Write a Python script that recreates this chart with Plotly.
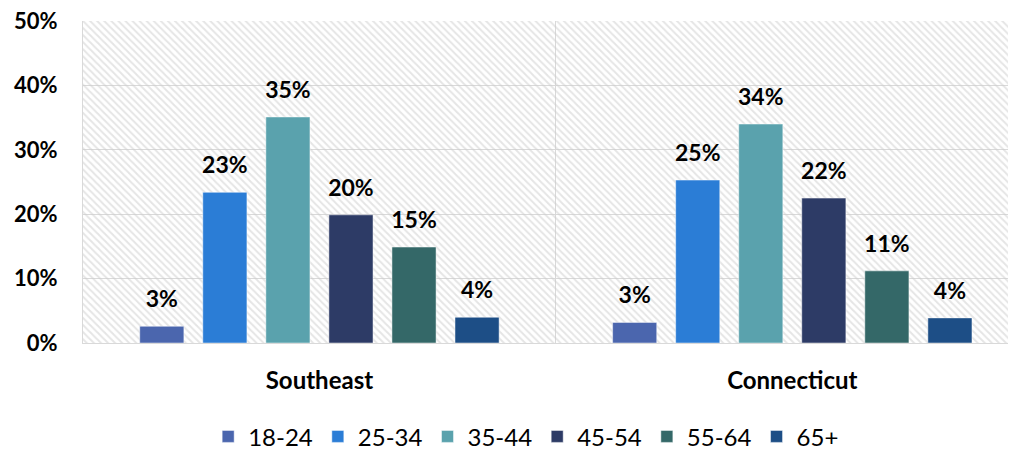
import plotly.graph_objects as go

# Répartition par tranche d'âge (part des répondants)
regions = ["Southeast", "Connecticut"]
age_groups = ["18-24", "25-34", "35-44", "45-54", "55-64", "65+"]
shares = {
    "18-24": [0.026, 0.032],
    "25-34": [0.234, 0.253],
    "35-44": [0.351, 0.340],
    "45-54": [0.199, 0.225],
    "55-64": [0.149, 0.112],
    "65+":   [0.040, 0.039],
}
colors = ["#4B66AE", "#2B7DD6", "#5AA2AD", "#2D3B66", "#346868", "#1D4E86"]
y_ticks = [0, 0.1, 0.2, 0.3, 0.4, 0.5]

FONT = "Lato"
fig = go.Figure()

# fond hachuré (sur les axes principaux, donc sous les barres)
fig.add_trace(go.Bar(
    x=[0.5], y=[1], width=[1], xaxis="x", yaxis="y",
    marker=dict(color="rgba(0,0,0,0)", line=dict(width=0),
                pattern=dict(shape="\\", fgcolor="#cccccc", bgcolor="rgba(0,0,0,0)",
                             size=5, solidity=0.4)),
    hoverinfo="skip", showlegend=False,
))

for age, col in zip(age_groups, colors):
    fig.add_trace(go.Bar(
        x=regions, y=shares[age], name=age, xaxis="x2", yaxis="y2",
        offsetgroup=age, alignmentgroup="b",
        marker=dict(color=col, line=dict(color="rgba(255,255,255,0.6)", width=0.8)),
    ))

# étiquettes de valeurs (points invisibles groupés comme les barres)
for age in age_groups:
    fig.add_trace(go.Scatter(
        x=regions, y=shares[age], xaxis="x2", yaxis="y2",
        offsetgroup=age, alignmentgroup="s",
        mode="markers+text", marker=dict(size=20, opacity=0),
        text=[f"{v:.0%}" for v in shares[age]], textposition="top center",
        textfont=dict(family=FONT, size=23, color="black", weight="bold"),
        cliponaxis=False, showlegend=False, hoverinfo="skip",
    ))

fig.update_layout(
    width=1016, height=449,
    margin=dict(l=75, r=0, t=13, b=114),
    paper_bgcolor="white", plot_bgcolor="white",
    barmode="group", bargap=0.2, bargroupgap=0.3,
    scattermode="group", scattergap=0.2,
    font=dict(family=FONT, color="black"),
    xaxis=dict(range=[0, 1], visible=False, fixedrange=True),
    yaxis=dict(range=[0, 1], visible=False, fixedrange=True),
    xaxis2=dict(overlaying="x", type="category", range=[-0.5, 1.49], automargin=False,
                tickson="boundaries", showgrid=True, gridcolor="#d9d9d9", gridwidth=1.3,
                showline=True, linecolor="#d9d9d9", linewidth=1.3,
                ticks="", ticklabelstandoff=16,
                tickfont=dict(family=FONT, size=24, weight="bold")),
    yaxis2=dict(overlaying="y", range=[0, 0.5], tickvals=y_ticks, tickformat=".0%",
                automargin=False, ticklabeloverflow="allow",
                showgrid=True, gridcolor="#d9d9d9", gridwidth=1.3,
                showline=True, linecolor="#d9d9d9", linewidth=1.3,
                ticks="outside", ticklen=20, tickcolor="rgba(0,0,0,0)",
                tickfont=dict(family=FONT, size=22, weight="bold"), zeroline=False),
    legend=dict(orientation="h", xref="container", yref="container",
                x=0.51, xanchor="center", y=0.045, yanchor="middle",
                font=dict(family=FONT, size=24), itemwidth=30,
                traceorder="normal"),
)

fig.write_html("out.html")
